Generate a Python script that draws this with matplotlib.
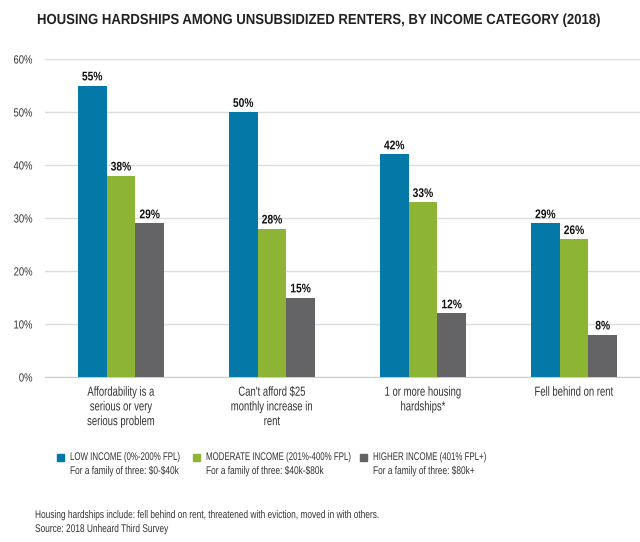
import matplotlib
matplotlib.use('Agg')
import matplotlib.pyplot as plt
from matplotlib.patches import Rectangle
from matplotlib.patheffects import AbstractPathEffect
from matplotlib.transforms import Affine2D
import numpy as np

plt.rcParams['font.family'] = ['Liberation Sans', 'DejaVu Sans']

# ---------------------------------------------------------------
# data
# ---------------------------------------------------------------
categories = ['Affordability is a\nserious or very\nserious problem',
              "Can't afford \\$25\nmonthly increase in\nrent",
              '1 or more housing\nhardships*',
              'Fell behind on rent']
low_income = [55, 50, 42, 29]
moderate_income = [38, 28, 33, 26]
higher_income = [29, 15, 12, 8]
series_names = ['LOW INCOME (0%-200% FPL)', 'MODERATE INCOME (201%-400% FPL)', 'HIGHER INCOME (401% FPL+)']
series_notes = ['For a family of three: \\$0-\\$40k', 'For a family of three: \\$40k-\\$80k', 'For a family of three: \\$80k+']
yticks = [0, 10, 20, 30, 40, 50, 60]

colors = ['#0479a8', '#8db434', '#646467']
txt = '#333333'


# the original uses a condensed face, so squeeze text horizontally
class Squeeze(AbstractPathEffect):
  def __init__(self, sx, align=0.0):
    super().__init__()
    self.sx = sx
    self.align = align

  def draw_path(self, renderer, gc, tpath, affine, rgbFace=None):
    w = tpath.vertices[:, 0].max() if len(tpath.vertices) else 0
    t = Affine2D().scale(self.sx, 1).translate((1-self.sx)*w*self.align, 0)
    renderer.draw_path(gc, tpath, t + affine, rgbFace)


fig = plt.figure(figsize=(6.4, 5.42), dpi=100)
ax = fig.add_axes([45/640, 1-377/542, 1-45/640, (377-59)/542])

x = np.arange(len(categories))
w = 0.19
for k, vals in enumerate([low_income, moderate_income, higher_income]):
  bars = ax.bar(x + (k-1)*w, vals, w, color=colors[k], zorder=3)
  for b, v in zip(bars, vals):
    t = ax.text(b.get_x()+b.get_width()/2, v+0.4, '%d%%' % v, ha='center', va='bottom',
                fontsize=9, fontweight='bold', color='#111111')
    t.set_path_effects([Squeeze(0.82, 0.5)])

ax.set_xlim(-0.503, 3.437)
ax.set_ylim(0, 60)
ax.set_yticks(yticks)
ax.set_yticklabels(['%d%%' % t for t in yticks], fontsize=8.5, color=txt)
ax.set_xticks(x)
ax.set_xticklabels(categories, fontsize=9.5, color=txt, linespacing=1.3, va='top')
for t in ax.get_yticklabels():
  t.set_path_effects([Squeeze(0.8, 1.0)])
for t in ax.get_xticklabels():
  t.set_path_effects([Squeeze(0.72, 0.5)])
ax.tick_params(axis='both', length=0)
ax.tick_params(axis='y', pad=9)
ax.tick_params(axis='x', pad=7)
ax.grid(axis='y', color='#dddddd', linewidth=1, zorder=0)
for s in ['top', 'right', 'left']:
  ax.spines[s].set_visible(False)
ax.spines['bottom'].set_color('#cccccc')

title = fig.text(37/640, 1-20/542, 'HOUSING HARDSHIPS AMONG UNSUBSIDIZED RENTERS, BY INCOME CATEGORY (2018)',
                 fontsize=10.5, fontweight='bold', color='#222222', va='center', ha='left')
title.set_path_effects([Squeeze(0.9, 0.0)])

# legend
leg_x = [57, 193, 360]
for k in range(3):
  fig.patches.append(Rectangle((leg_x[k]/640, 1-461/542), 7/640, 7/542,
                               transform=fig.transFigure, color=colors[k]))
  t1 = fig.text((leg_x[k]+13)/640, 1-457/542, series_names[k], fontsize=8, color=txt, va='center')
  t2 = fig.text((leg_x[k]+13)/640, 1-471/542, series_notes[k], fontsize=8, color=txt, va='center')
  t1.set_path_effects([Squeeze(0.71, 0.0)])
  t2.set_path_effects([Squeeze(0.75, 0.0)])

f1 = fig.text(35/640, 1-515/542, 'Housing hardships include: fell behind on rent, threatened with eviction, moved in with others.',
              fontsize=8, color=txt, va='center')
f2 = fig.text(35/640, 1-529/542, 'Source: 2018 Unheard Third Survey', fontsize=8, color=txt, va='center')
f1.set_path_effects([Squeeze(0.75, 0.0)])
f2.set_path_effects([Squeeze(0.75, 0.0)])

fig.savefig('out.png', dpi=100)
